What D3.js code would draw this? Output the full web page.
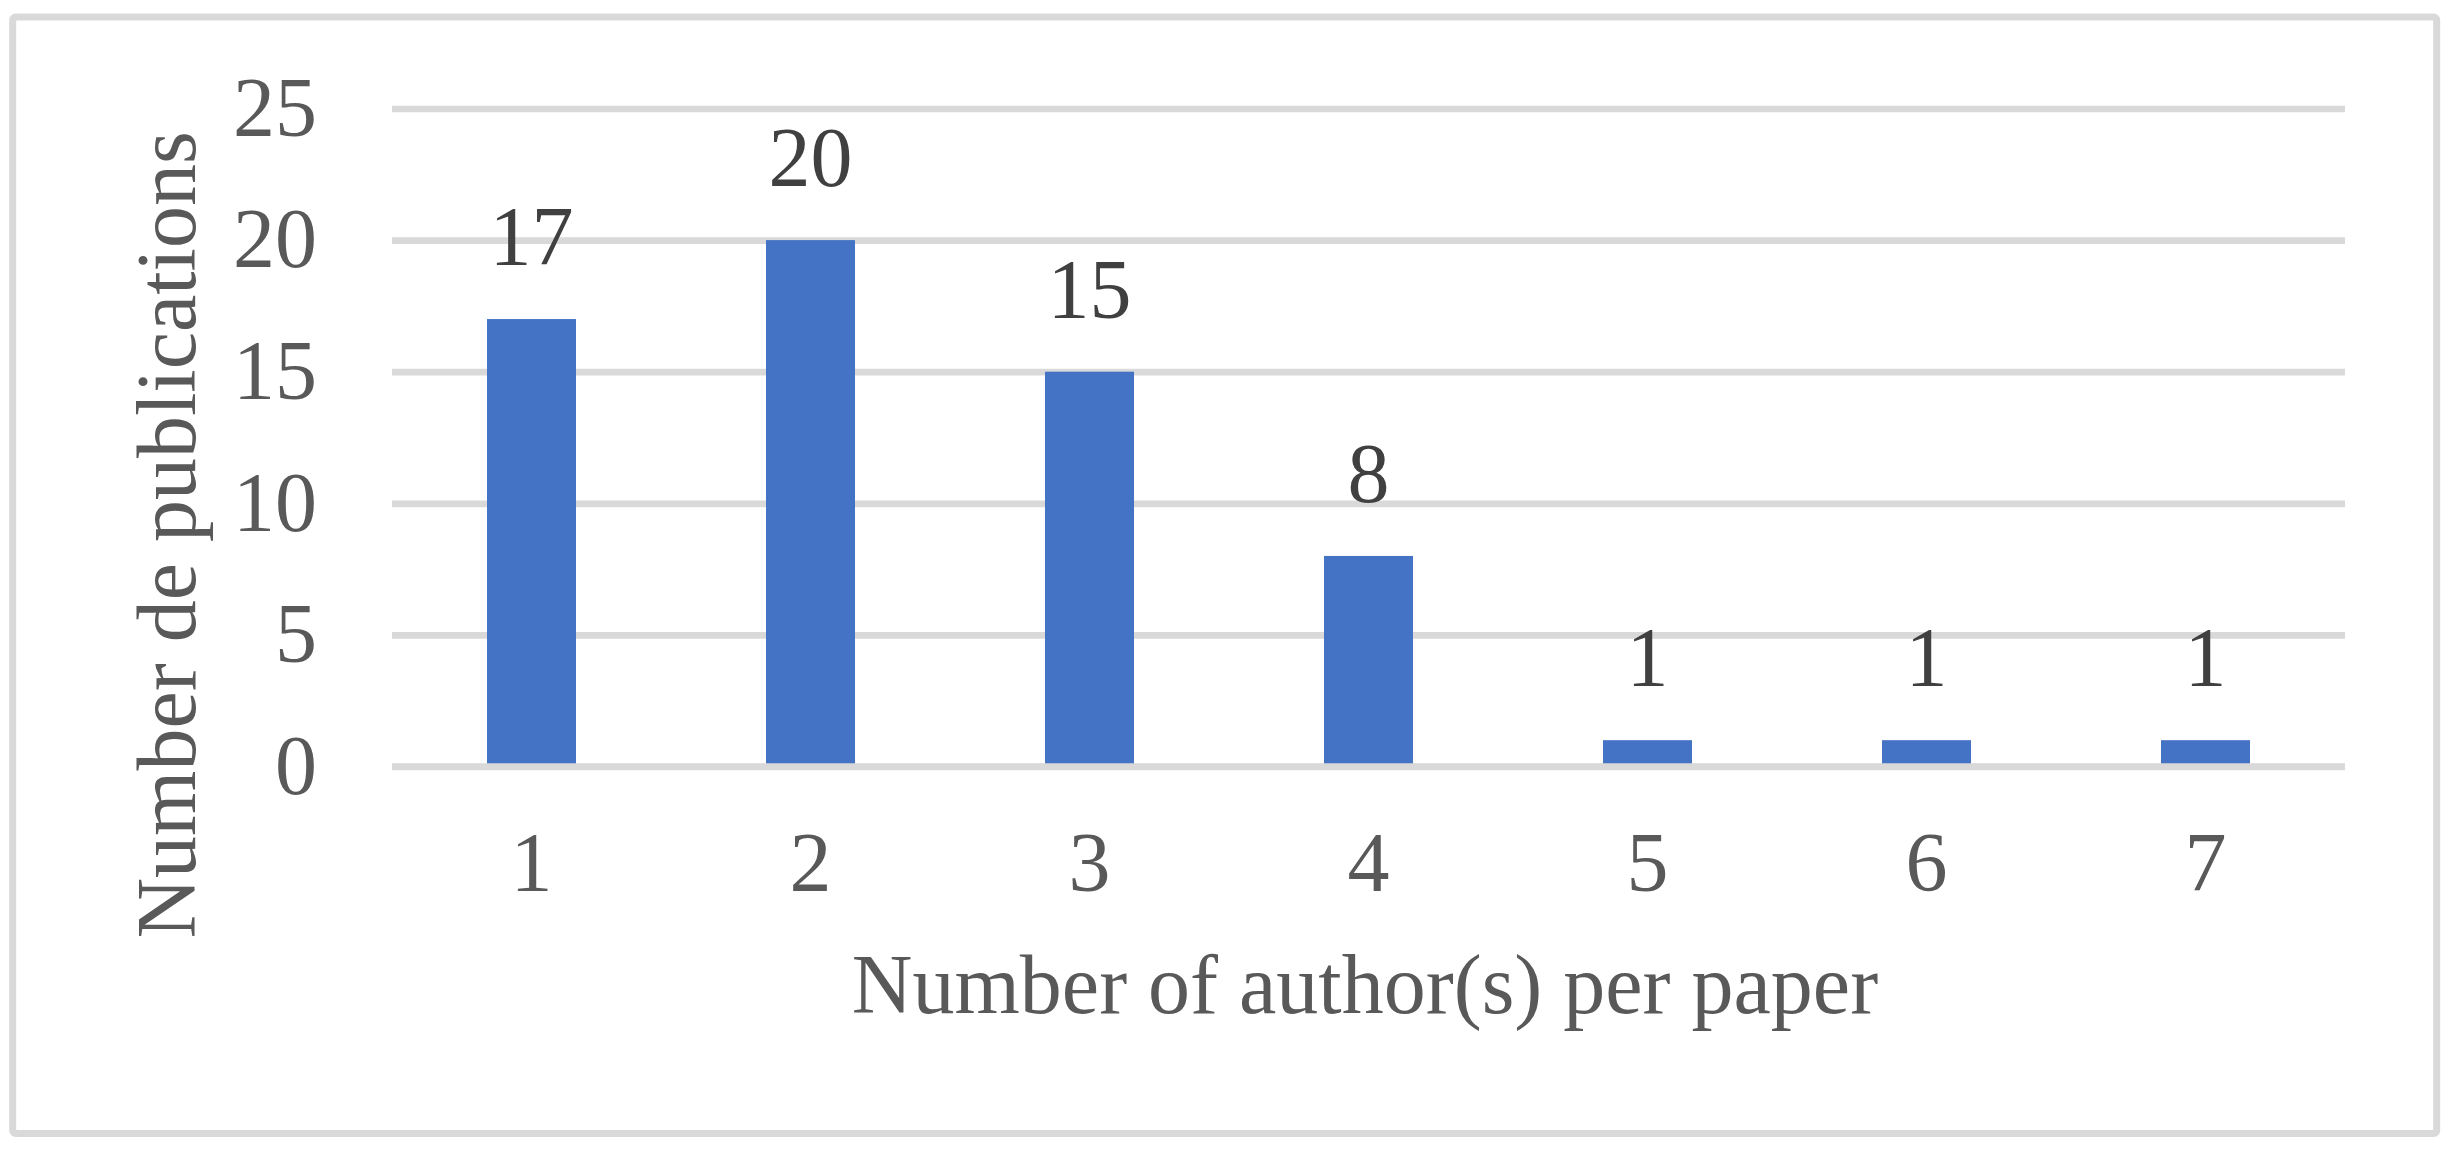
<!DOCTYPE html>
<html>
<head>
<meta charset="utf-8">
<script src="https://cdn.jsdelivr.net/npm/d3@7"></script>
<style>
  html, body { margin: 0; padding: 0; background: #fff; }
  svg { display: block; }
</style>
</head>
<body>
<div id="chart"></div>
<script>
// data
var authors = ['1', '2', '3', '4', '5', '6', '7'];
var publications = [17, 20, 15, 8, 1, 1, 1];
var yTicks = [0, 5, 10, 15, 20, 25];

var W = 2456, H = 1151;

//styles
var style = {
    barColor: '#4472c4',
    gridColor: '#d9d9d9',
    tickColor: '#595959',
    labelColor: '#404040',
    font: '"Liberation Serif", "Times New Roman", serif',
    fontSize: 84
};

var plot = { left: 392, right: 2345, top: 108.5, bottom: 766.5 };

var svg = d3.select('#chart').append('svg')
    .attr('width', W)
    .attr('height', H);

svg.append('rect')
    .attr('width', W)
    .attr('height', H)
    .attr('fill', '#fff');

// chart area border
svg.append('rect')
    .attr('x', 12.7)
    .attr('y', 17)
    .attr('width', 2424)
    .attr('height', 1116.5)
    .attr('rx', 3)
    .attr('fill', '#fff')
    .attr('stroke', style.gridColor)
    .attr('stroke-width', 7);

// SET UP SCALES
var xScale = d3.scaleBand()
    .domain(authors)
    .range([plot.left, plot.right])
    .paddingInner(0.681)
    .paddingOuter(0.3405);

var yScale = d3.scaleLinear()
    .domain([0, 25])
    .range([plot.bottom, plot.top]);

// y axis with gridlines
var yAxis = d3.axisLeft(yScale)
    .tickValues(yTicks)
    .tickSize(-(plot.right - plot.left))
    .tickPadding(75)
    .tickFormat(d3.format('d'));

var yG = svg.append('g')
    .attr('transform', translation(plot.left, 0))
    .call(yAxis);
yG.select('.domain').remove();
yG.selectAll('.tick line')
    .attr('stroke', style.gridColor)
    .attr('stroke-width', 6.7);
yG.selectAll('.tick text')
    .attr('fill', style.tickColor)
    .style('font-family', style.font)
    .style('font-size', style.fontSize + 'px');

// DRAW BARS
var rows = authors.map(function(a, i) {
    return { author: a, value: publications[i] };
});

svg.append('g').selectAll('rect')
    .data(rows)
    .enter().append('rect')
    .attr('x', function(d) { return xScale(d.author); })
    .attr('y', function(d) { return yScale(d.value); })
    .attr('width', xScale.bandwidth())
    .attr('height', function(d) { return yScale(0) - yScale(d.value); })
    .attr('fill', style.barColor);

// horizontal axis line sits on top of the bars
var xAxis = d3.axisBottom(xScale)
    .tickSize(0)
    .tickPadding(65);

var xG = svg.append('g')
    .attr('transform', translation(0, yScale(0)))
    .call(xAxis);
xG.select('.domain')
    .attr('d', 'M' + plot.left + ',0H' + plot.right)
    .attr('stroke', style.gridColor)
    .attr('stroke-width', 6.7);
xG.selectAll('.tick text')
    .attr('fill', style.tickColor)
    .style('font-family', style.font)
    .style('font-size', style.fontSize + 'px');

// data labels
svg.append('g').selectAll('text')
    .data(rows)
    .enter().append('text')
    .attr('x', function(d) { return xScale(d.author) + xScale.bandwidth() / 2; })
    .attr('y', function(d) { return yScale(d.value) - 54; })
    .attr('text-anchor', 'middle')
    .attr('fill', style.labelColor)
    .style('font-family', style.font)
    .style('font-size', style.fontSize + 'px')
    .text(function(d) { return d.value; });

// axis titles
svg.append('text')
    .attr('x', 1365)
    .attr('y', 1013)
    .attr('text-anchor', 'middle')
    .attr('fill', style.tickColor)
    .style('font-family', style.font)
    .style('font-size', style.fontSize + 'px')
    .text('Number of author(s) per paper');

svg.append('text')
    .attr('transform', translation(195, 535) + ' rotate(-90)')
    .attr('text-anchor', 'middle')
    .attr('fill', style.tickColor)
    .style('font-family', style.font)
    .style('font-size', style.fontSize + 'px')
    .text('Number de publications');

// string concat for translate
function translation(x, y) {
    return 'translate(' + x + ',' + y + ')';
}
</script>
</body>
</html>
